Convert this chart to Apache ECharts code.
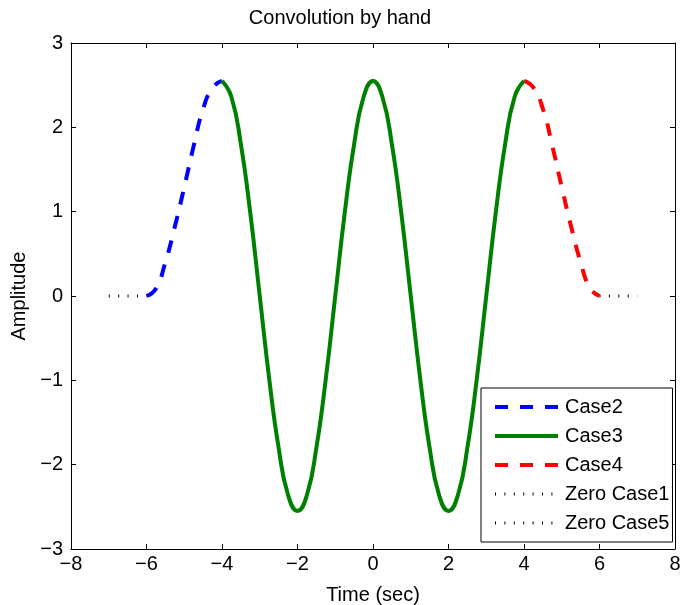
<!DOCTYPE html>
<html>
<head>
<meta charset="utf-8">
<script src="https://cdn.jsdelivr.net/npm/echarts@6/dist/echarts.min.js"></script>
<style>
html,body{margin:0;padding:0;background:#fff;}
#chart{width:680px;height:605px;}
</style>
</head>
<body>
<div id="chart"></div>
<script>
// ---- data ----
const titleText = 'Convolution by hand';
const xName = 'Time (sec)';
const yName = 'Amplitude';

const xTicks = [-8, -6, -4, -2, 0, 2, 4, 6, 8];
const yTicks = [-3, -2, -1, 0, 1, 2, 3];

const zero1T = [-7, -6];
const zero1Y = [0, 0];

const case2T = [-6, -5.75, -5.5, -5.25, -5, -4.75, -4.5, -4.25, -4];
const case2Y = [0, 0.09, 0.40, 0.82, 1.29, 1.78, 2.22, 2.47, 2.55];

const case3T = [-4, -3.75, -3.5, -3.25, -3, -2.75, -2.5, -2.25, -2, -1.75, -1.5, -1.25, -1, -0.75, -0.5, -0.25,
                0, 0.25, 0.5, 0.75, 1, 1.25, 1.5, 1.75, 2, 2.25, 2.5, 2.75, 3, 3.25, 3.5, 3.75, 4];
const case3Y = [2.55, 2.36, 1.80, 0.98, 0, -0.98, -1.80, -2.36, -2.55, -2.36, -1.80, -0.98, 0, 0.98, 1.80, 2.36,
                2.55, 2.36, 1.80, 0.98, 0, -0.98, -1.80, -2.36, -2.55, -2.36, -1.80, -0.98, 0, 0.98, 1.80, 2.36, 2.55];

const case4T = [4, 4.25, 4.5, 4.75, 5, 5.25, 5.5, 5.75, 6];
const case4Y = [2.55, 2.47, 2.22, 1.78, 1.29, 0.82, 0.40, 0.09, 0];

const zero5T = [6, 7];
const zero5Y = [0, 0];

const legendOrder = ['Case2', 'Case3', 'Case4', 'Zero Case1', 'Zero Case5'];

// ---- build ----
const zip = (t, y) => t.map((v, i) => [v, y[i]]);
const FONT = 'Liberation Sans, Arial, Helvetica, sans-serif';
const fmt = v => String(v).replace('-', '\u2212');

const xMin = xTicks[0], xMax = xTicks[xTicks.length - 1];
const yMin = yTicks[0], yMax = yTicks[yTicks.length - 1];
const xInt = xTicks[1] - xTicks[0];
const yInt = yTicks[1] - yTicks[0];

const axisLine = {show: true, onZero: false, lineStyle: {color: '#000', width: 1}};
const tick = {show: true, inside: true, length: 5, lineStyle: {color: '#000', width: 1}};

const dashed = [13, 12];
const dotted = [1, 8.4];

const styles = {
  'Case2': {color: '#0000ff', width: 4, type: dashed},
  'Case3': {color: '#008000', width: 4, type: 'solid'},
  'Case4': {color: '#ff0000', width: 4, type: dashed},
  'Zero Case1': {color: '#000', width: 3, type: dotted, cap: 'butt'},
  'Zero Case5': {color: '#000', width: 3, type: dotted, cap: 'butt'}
};

const chart = echarts.init(document.getElementById('chart'), null, {renderer: 'canvas'});
chart.setOption({
  animation: false,
  backgroundColor: '#fff',
  title: {
    text: titleText,
    left: 'center',
    top: 3,
    padding: [5, 0, 5, 66],
    textStyle: {fontFamily: FONT, fontSize: 20, fontWeight: 'normal', color: '#000'}
  },
  grid: {left: 71, right: 5, top: 43, bottom: 56, containLabel: false, outerBoundsMode: 'none'},
  legend: {
    data: legendOrder.map(n => ({name: n, lineStyle: Object.assign({}, styles[n])})),
    orient: 'vertical',
    left: 481,
    top: 388,
    padding: [9, 3, 9, 12],
    itemWidth: 63,
    itemHeight: 20,
    itemGap: 9,
    backgroundColor: '#fff',
    borderColor: '#000',
    borderWidth: 1,
    borderRadius: 0,
    selectedMode: false,
    z: 10,
    itemStyle: {opacity: 0, borderWidth: 0},
    textStyle: {fontFamily: FONT, fontSize: 20, color: '#000', lineHeight: 20, padding: [0, 0, 0, 2]}
  },
  xAxis: [{
    type: 'value', min: xMin, max: xMax, interval: xInt, position: 'bottom',
    name: xName, nameLocation: 'middle', nameGap: 36,
    nameTextStyle: {fontFamily: FONT, fontSize: 20, color: '#000'},
    axisLine: axisLine, axisTick: tick, splitLine: {show: false},
    axisLabel: {fontFamily: FONT, fontSize: 20, color: '#000', margin: 5, formatter: fmt}
  }, {
    type: 'value', min: xMin, max: xMax, interval: xInt, position: 'top',
    axisLine: axisLine, axisTick: tick, splitLine: {show: false},
    axisLabel: {show: false}
  }],
  yAxis: [{
    type: 'value', min: yMin, max: yMax, interval: yInt, position: 'left',
    name: yName, nameLocation: 'middle', nameGap: 40,
    nameTextStyle: {fontFamily: FONT, fontSize: 20, color: '#000'},
    axisLine: axisLine, axisTick: tick, splitLine: {show: false},
    axisLabel: {fontFamily: FONT, fontSize: 20, color: '#000', margin: 8, formatter: fmt}
  }, {
    type: 'value', min: yMin, max: yMax, interval: yInt, position: 'right',
    axisLine: axisLine, axisTick: tick, splitLine: {show: false},
    axisLabel: {show: false}
  }],
  series: [
    {name: 'Zero Case1', type: 'line', data: zip(zero1T, zero1Y), symbol: 'none',
     lineStyle: styles['Zero Case1'], itemStyle: {color: '#000'}},
    {name: 'Zero Case5', type: 'line', data: zip(zero5T, zero5Y), symbol: 'none',
     lineStyle: styles['Zero Case5'], itemStyle: {color: '#000'}},
    {name: 'Case2', type: 'line', data: zip(case2T, case2Y), symbol: 'none', smooth: true,
     lineStyle: styles['Case2'], itemStyle: {color: '#0000ff'}},
    {name: 'Case4', type: 'line', data: zip(case4T, case4Y), symbol: 'none', smooth: true,
     lineStyle: styles['Case4'], itemStyle: {color: '#ff0000'}},
    {name: 'Case3', type: 'line', data: zip(case3T, case3Y), symbol: 'none', smooth: true,
     lineStyle: styles['Case3'], itemStyle: {color: '#008000'}}
  ]
});
</script>
</body>
</html>
